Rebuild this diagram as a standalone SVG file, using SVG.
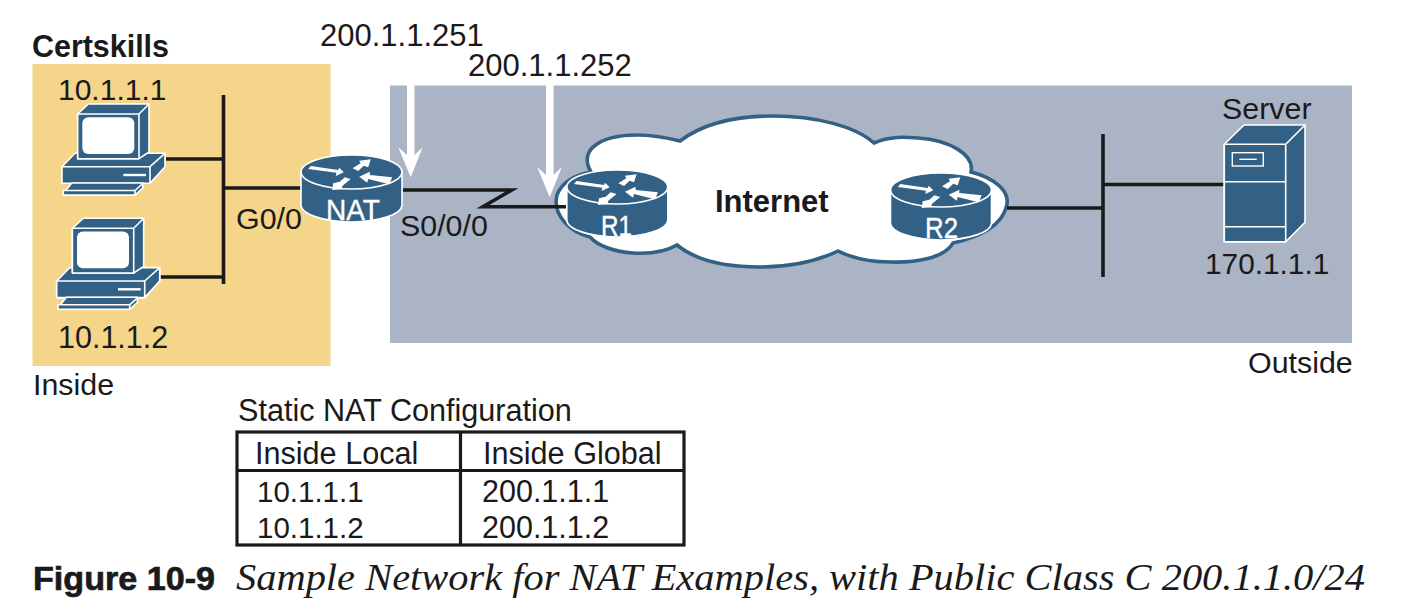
<svg xmlns="http://www.w3.org/2000/svg" width="1408" height="614" viewBox="0 0 1408 614">
<style>
text{font-family:"Liberation Sans",Arial,sans-serif;font-size:30.4px;fill:#1a1a1a}
.w{fill:#fff;font-size:30px;stroke:#fff;stroke-width:.4}
.b{font-weight:bold}
.dev{fill:#336186;stroke:#fff;stroke-width:1.6;stroke-linejoin:round}
.wf{fill:#fff;stroke:none}
.ln{fill:none;stroke:#1a1a1a;stroke-width:3.6}
.arrow{fill:#fff;stroke:none}
</style>
<defs>
<g id="pc">
<path class="dev" d="M62 166.7L75 153.3H165V166.7L150 183.3H62Z"/>
<path class="dev" d="M62 166.7H150V183.3H62ZM150 166.7L165 153.3V166.7L150 183.3Z"/>
<path class="dev" d="M77.7 114L88.3 104H149V152L139 158.7H77.7Z"/>
<path class="dev" d="M77.7 114H139V158.7H77.7ZM139 114L149 104"/>
<rect class="wf" x="82.3" y="117.3" width="52" height="36.7" rx="6"/>
<path d="M123.3 175H146" stroke="#fff" stroke-width="2.4"/>
<path class="dev" d="M71.7 183H142.7V188L135 195H63.3V193.5Z"/>
<path class="dev" d="M63.3 190.5H135V195H63.3ZM135 190.5L142.7 183.5"/>
</g>
<g id="router">
<path class="dev" d="M-50.5 0V33C-50.5 42 -28 50 0 50S50.5 42 50.5 33V0Z"/>
<ellipse class="dev" cx="0" cy="0" rx="50.5" ry="17"/>
<path class="wf" d="M-43.3 -3L-40.7 -6L-13.3 -2L-12.3 -4.3L-7.7 .3L-15.7 4L-15 .7ZM1 -3.700L6.700 -1L12.300 -6.300L16.700 -4.700L19.300 -12.700L7.700 -11.300L9 -8.700ZM-.7 7L-6.700 5.300L-11.700 9.700L-18.300 11.300L-19.300 18L-10 17.300L-9 13.700ZM40.700 5.300L37.700 12.300L16.700 7L15.700 10.700L7.700 4.700L18.300 -.3L18.300 3Z"/>
</g>
</defs>

<rect x="32.500" y="64" width="298" height="302" fill="#f4d58a"/>
<rect x="390" y="85.500" width="962" height="257.500" fill="#abb4c4"/>

<g id="cloud">
<path d="M591 172C578 150 600 135 637 135C652 135 668 138 680 141C705 122 740 116 773 116C815 116 855 126 874 143C890 136 905 137 918 138C950 140 975 155 971 172C995 178 1012 192 1006 208C1000 228 975 238 953 243C945 258 915 263 890 262C870 262 852 258 838 251C815 262 790 267 760 267C725 267 695 260 677 245C665 252 650 254 633 253C615 252 598 246 590 237C570 232 552 215 557 195C562 182 575 175 591 172Z" fill="#fff" stroke="#336186" stroke-width="3.600"/>
</g>

<g id="connectors">
<path class="ln" d="M223.500 95V284M166 159H223.500M160 277H223.500M223.500 188H301"/>
<path class="ln" d="M403 190H511.700L483 206.700H567"/>
<path class="ln" d="M1007 208H1103M1103 134V277M1103 184.500H1224"/>
</g>

<g id="arrows">
<path class="arrow" d="M407 85H414.500V155L422.700 147.300L410.700 177.300L398.300 147.300L407 155Z"/>
<path class="arrow" d="M546 85H553.500V175L561.700 167.300L549.700 197.300L537.300 167.300L546 175Z"/>
</g>

<g id="pc1"><use href="#pc"/></g>
<g id="pc2"><use href="#pc" x="-5.300" y="114.300"/></g>

<g id="nat"><use href="#router" x="351.500" y="172"/><text class="w" x="326" y="220" textLength="54" lengthAdjust="spacingAndGlyphs">NAT</text></g>
<g id="r1"><use href="#router" x="617.300" y="187"/><text class="w" x="601" y="235.500" textLength="31" lengthAdjust="spacingAndGlyphs">R1</text></g>
<g id="r2"><use href="#router" x="941" y="190"/><text class="w" x="925" y="237.500" textLength="33" lengthAdjust="spacingAndGlyphs">R2</text></g>

<g id="server">
<path class="dev" d="M1224.300 144.300L1244 125H1305V222.300L1285.700 241.700H1224.300Z"/>
<path class="dev" d="M1224.300 144.300H1285.700V241.700H1224.300ZM1285.700 144.300L1305 125M1224.300 181.700H1285.700M1224.300 226.700H1285.700"/>
<rect x="1232.300" y="152.700" width="31" height="13.300" fill="none" stroke="#fff" stroke-width="1.400"/>
<path d="M1239.300 159.300H1256.700" stroke="#fff" stroke-width="1.400"/>
</g>

<g id="labels">
<text class="b" x="32" y="57" style="font-size:30.500px" textLength="137">Certskills</text>
<text x="58" y="100" style="font-size:30px">10.1.1.1</text>
<text x="58" y="348" style="font-size:30.500px">10.1.1.2</text>
<text x="33" y="395">Inside</text>
<text x="236" y="229">G0/0</text>
<text x="400" y="236">S0/0/0</text>
<text x="320" y="46" style="font-size:31px">200.1.1.251</text>
<text x="468" y="76" style="font-size:31px">200.1.1.252</text>
<text class="b" x="715" y="212" style="font-size:31px">Internet</text>
<text x="1222" y="119">Server</text>
<text x="1205" y="274" style="font-size:29.800px">170.1.1.1</text>
<text x="1248" y="373">Outside</text>
</g>

<g id="table">
<text x="238" y="421" style="font-size:30.600px">Static NAT Configuration</text>
<rect x="237" y="432" width="447" height="113" fill="none" stroke="#1a1a1a" stroke-width="3.200"/>
<path d="M237 470.500H684M460.500 432V545" fill="none" stroke="#1a1a1a" stroke-width="3.200"/>
<text x="255" y="464" style="font-size:30.600px">Inside Local</text>
<text x="483" y="464" style="font-size:30.600px">Inside Global</text>
<text x="257" y="502" style="font-size:29.500px">10.1.1.1</text>
<text x="482" y="502" style="font-size:30.500px">200.1.1.1</text>
<text x="257" y="538" style="font-size:29.500px">10.1.1.2</text>
<text x="482" y="538" style="font-size:30.500px">200.1.1.2</text>
</g>

<g id="caption">
<text x="33" y="590" class="b" style="font-size:34px;stroke:#1a1a1a;stroke-width:.7" textLength="182" lengthAdjust="spacingAndGlyphs">Figure 10-9</text>
<text x="236" y="590" style="font-family:'Liberation Serif','Times New Roman',serif;font-style:italic;font-size:37px" textLength="1129" lengthAdjust="spacingAndGlyphs">Sample Network for NAT Examples, with Public Class C 200.1.1.0/24</text>
</g>
</svg>
